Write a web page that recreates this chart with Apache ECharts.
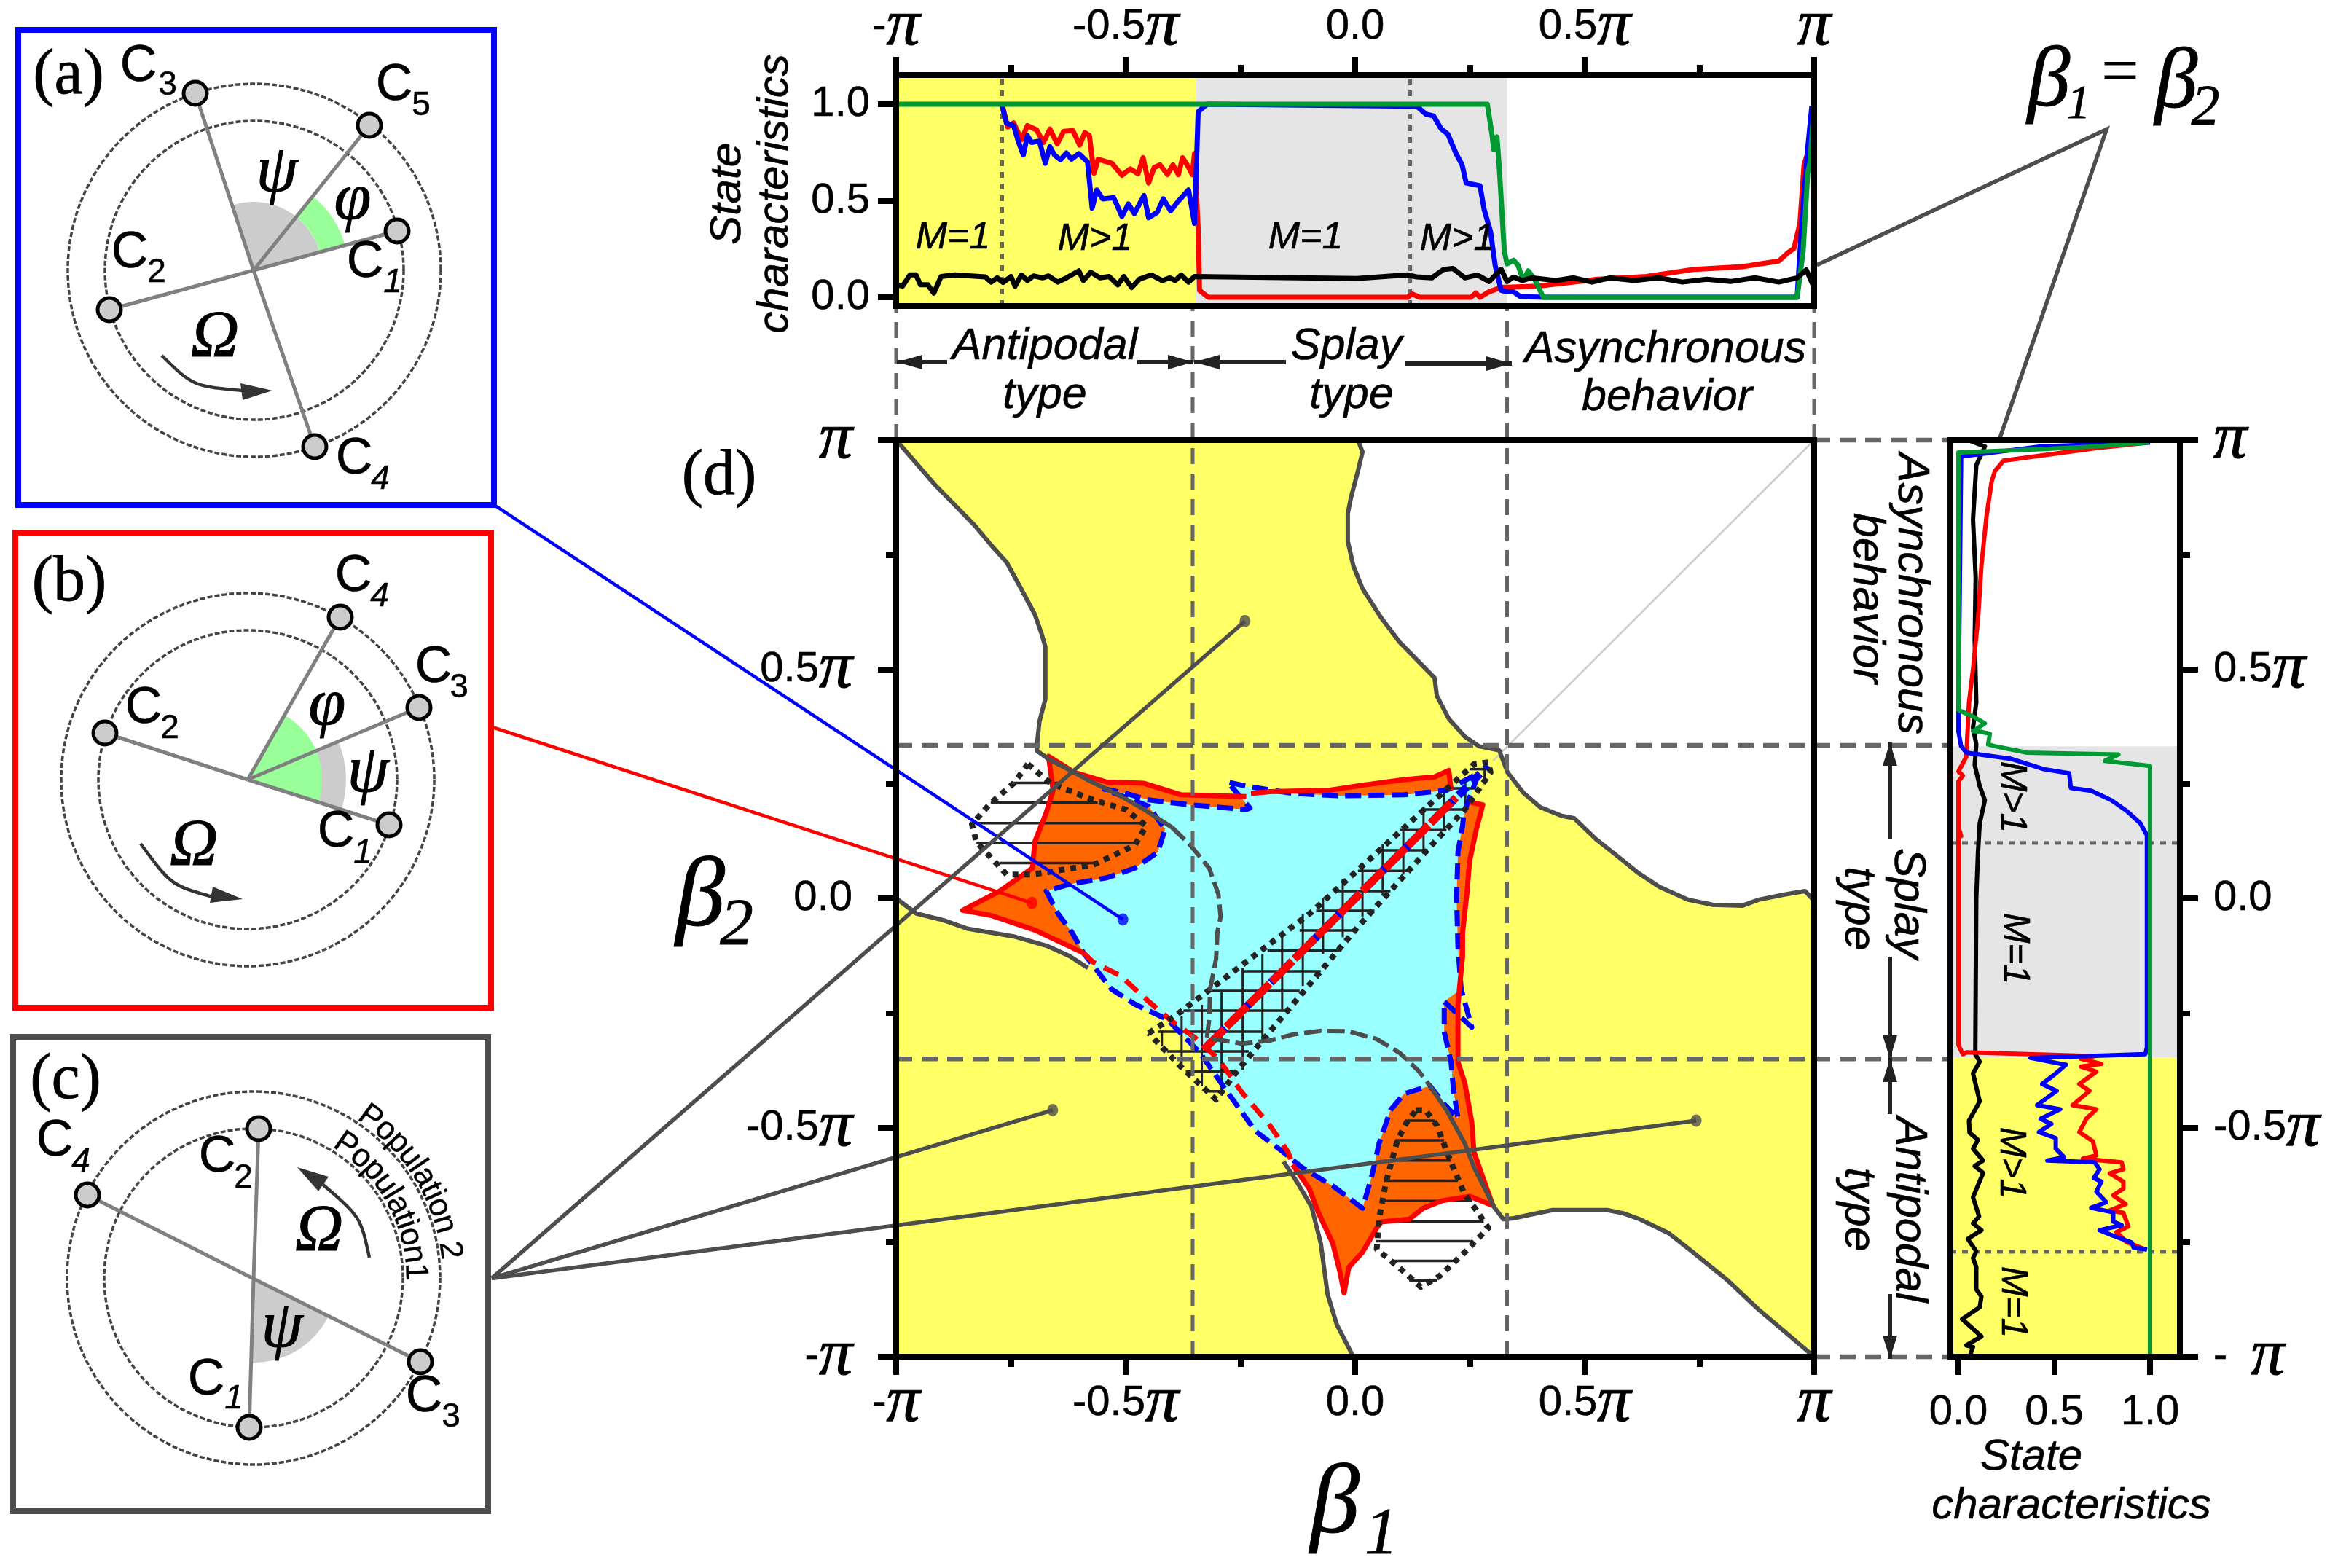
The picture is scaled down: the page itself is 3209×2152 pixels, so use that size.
<!DOCTYPE html>
<html><head><meta charset="utf-8">
<style>html,body{margin:0;padding:0;background:#fff}#c{width:3209px;height:2152px}</style>
<script src="https://cdn.jsdelivr.net/npm/echarts@6/dist/echarts.min.js"></script>
</head><body><div id="c"></div>
<script>
// ---------- tick labels ----------
const piTicks=[-1,-0.5,0,0.5,1];
const piLabels=['-{p|π}','-0.5{p|π}','0.0','0.5{p|π}','{p|π}'];
const piLabelsRight=['-  {p|π}','-0.5{p|π}','0.0','0.5{p|π}','{p|π}'];
const stateTicks=[0,0.5,1];
const stateLabels=['0.0','0.5','1.0'];
// ---------- top panel curves [beta1/pi, value] ----------
const topGreen=[[-1,1],[.288,1],[.298,.845],[.302,.766],[.309,.831],[.314,.672],[.325,.238],[.331,.173],[.345,.192],[.355,.166],[.366,.087],[.377,.137],[.391,.094],[.41,0],[.963,0],[.976,.238],[.986,.643],[.991,.7],[1,1]];
const topBlue=[[-.769,.99],[-.76,.903],[-.744,.889],[-.734,.809],[-.723,.737],[-.714,.838],[-.705,.802],[-.688,.809],[-.675,.694],[-.665,.78],[-.655,.737],[-.642,.712],[-.629,.747],[-.618,.715],[-.602,.744],[-.583,.701],[-.573,.462],[-.563,.556],[-.55,.51],[-.526,.516],[-.508,.419],[-.494,.484],[-.481,.434],[-.46,.527],[-.45,.412],[-.431,.441],[-.418,.51],[-.402,.448],[-.385,.499],[-.363,.556],[-.35,.383],[-.342,.961],[-.323,1],[.134,.99],[.154,.949],[.171,.939],[.187,.874],[.202,.845],[.22,.744],[.233,.686],[.242,.592],[.272,.578],[.281,.455],[.295,.34],[.305,.166],[.318,.036],[.331,.029],[.345,.029],[.36,.004],[.41,0],[.963,0],[.973,.383],[.986,.77],[.995,.99]];
const topRed=[[-.769,1],[-.757,.882],[-.744,.903],[-.727,.816],[-.714,.889],[-.694,.867],[-.679,.802],[-.665,.871],[-.649,.795],[-.635,.86],[-.615,.863],[-.6,.788],[-.589,.853],[-.579,.838],[-.569,.643],[-.56,.715],[-.53,.694],[-.508,.632],[-.49,.665],[-.473,.64],[-.462,.723],[-.45,.592],[-.438,.672],[-.425,.686],[-.409,.636],[-.397,.686],[-.385,.636],[-.376,.723],[-.366,.686],[-.355,.636],[-.35,.744],[-.342,.354],[-.339,.036],[-.32,0],[.114,0],[.124,.017],[.141,0],[.252,0],[.263,.022],[.272,0],[.292,.029],[.318,.051],[.397,.058],[.529,.094],[.634,.108],[.739,.145],[.844,.159],[.923,.188],[.943,.231],[.956,.253],[.969,.383],[.978,.686],[.989,.773],[.997,.961]];
const topBlack=[[-1,.065],[-.986,.058],[-.97,.116],[-.957,.116],[-.947,.065],[-.931,.065],[-.918,.022],[-.902,.108],[-.872,.116],[-.806,.106],[-.793,.079],[-.78,.101],[-.767,.077],[-.75,.108],[-.741,.058],[-.727,.116],[-.714,.087],[-.701,.111],[-.681,.101],[-.668,.111],[-.648,.079],[-.629,.101],[-.602,.137],[-.592,.087],[-.576,.13],[-.556,.101],[-.536,.108],[-.517,.065],[-.504,.108],[-.487,.051],[-.47,.094],[-.444,.116],[-.42,.087],[-.404,.101],[-.392,.087],[-.379,.116],[-.363,.079],[-.35,.108],[.003,.097],[.114,.116],[.134,.106],[.167,.101],[.193,.145],[.213,.149],[.239,.101],[.266,.116],[.292,.082],[.318,.145],[.331,.082],[.345,.105],[.364,.087],[.384,.101],[.437,.087],[.476,.101],[.516,.079],[.555,.101],[.608,.087],[.661,.101],[.713,.079],[.766,.094],[.818,.082],[.871,.101],[.923,.079],[.963,.101],[.983,.142],[1,.051]];
// ---------- right panel curves [value, beta2/pi] ----------
const rightGreen=[[1,-1],[1,.289],[.764,.3],[.835,.314],[.358,.318],[.19,.332],[.155,.336],[.164,.359],[.111,.364],[.076,.365],[.138,.382],[.085,.395],[0,.411],[0,.973],[.429,.98],[.711,.986],[.993,.995]];
const rightBlue=[[.984,-.766],[.914,-.762],[.905,-.751],[.808,-.736],[.737,-.724],[.852,-.713],[.808,-.705],[.808,-.685],[.693,-.675],[.772,-.663],[.72,-.64],[.746,-.618],[.707,-.61],[.737,-.591],[.711,-.576],[.464,-.572],[.552,-.565],[.508,-.546],[.508,-.523],[.42,-.51],[.485,-.492],[.429,-.481],[.531,-.46],[.411,-.451],[.513,-.42],[.437,-.405],[.508,-.382],[.561,-.363],[.376,-.348],[.975,-.34],[.984,-.325],[.984,.138],[.949,.164],[.878,.191],[.799,.214],[.693,.235],[.587,.241],[.578,.273],[.446,.282],[.27,.305],[.041,.318],[.014,.332],[0,.364],[0,.409],[.014,.964],[.429,.986],[1,.995]];
const rightRed=[[.984,-.767],[.878,-.75],[.825,-.728],[.887,-.716],[.861,-.686],[.79,-.681],[.873,-.667],[.808,-.648],[.861,-.633],[.861,-.618],[.79,-.6],[.861,-.591],[.852,-.576],[.649,-.568],[.72,-.561],[.702,-.53],[.631,-.51],[.667,-.481],[.72,-.46],[.596,-.451],[.684,-.42],[.631,-.405],[.72,-.378],[.64,-.367],[.746,-.361],[.64,-.35],[.711,-.344],[.041,-.336],[.023,-.34],[0,-.32],[0,.155],[.014,.136],[0,.155],[0,.255],[.023,.268],[0,.277],[.041,.309],[.055,.427],[.076,.5],[.102,.609],[.12,.727],[.146,.832],[.173,.909],[.19,.932],[.235,.955],[.711,.982],[1,.995]];
const rightBlack=[[.058,-1],[.076,-.979],[.041,-.975],[.12,-.956],[.041,-.926],[.019,-.918],[.111,-.892],[.12,-.869],[.093,-.853],[.093,-.804],[.076,-.785],[.093,-.77],[.049,-.743],[.12,-.724],[.076,-.709],[.108,-.694],[.076,-.652],[.129,-.599],[.085,-.584],[.129,-.572],[.076,-.546],[.102,-.527],[.058,-.511],[.055,-.485],[.111,-.443],[.076,-.382],[.111,-.356],[.088,-.34],[.093,0],[.102,.1],[.111,.164],[.138,.214],[.111,.245],[.085,.291],[.093,.336],[.076,.373],[.093,.427],[.085,.564],[.09,.7],[.076,.827],[.093,.945],[.138,.986],[.05,1]];
// ---------- map (d) region boundaries [beta1/pi, beta2/pi] ----------
const curveUL=[[-1,1],[-.916,.903],[-.83,.815],[-.794,.772],[-.759,.733],[-.728,.676],[-.698,.62],[-.683,.577],[-.675,.549],[-.675,.435],[-.688,.385],[-.693,.336],[-.693,.322],[-.668,.304],[-.612,.275],[-.582,.258],[-.521,.229],[-.46,.194],[-.399,.155]];
const curveInner=[[-.399,.155],[-.359,.116],[-.318,.066],[-.298,.009],[-.293,-.04],[-.3,-.073],[-.303,-.132],[-.316,-.198],[-.318,-.264],[-.323,-.304],[-.247,-.317],[-.186,-.31],[-.136,-.297],[-.075,-.289],[-.014,-.29],[.047,-.307],[.097,-.337],[.138,-.376],[.163,-.409]];
const curveLR=[[.163,-.409],[.199,-.462],[.239,-.535],[.259,-.587],[.303,-.674],[.323,-.7],[.345,-.698],[.382,-.69],[.43,-.68],[.549,-.68],[.584,-.687],[.62,-.7],[.684,-.731],[.732,-.769],[.811,-.833],[.879,-.897],[1,-1]];
const curveUR=[[.006,1],[.016,.974],[.006,.932],[-.009,.875],[-.016,.84],[-.016,.779],[-.004,.726],[.016,.676],[.057,.612],[.097,.559],[.173,.481],[.178,.442],[.204,.392],[.239,.353],[.27,.332],[.314,.323],[.332,.275],[.366,.231],[.403,.199],[.45,.18],[.477,.175],[.525,.129],[.568,.095],[.615,.057],[.663,.025],[.726,-.003],[.779,-.014],[.843,-.016],[.879,-.003],[.933,.008],[.98,.016],[1,-.005]];
const curveLeft=[[-1,0],[-.956,-.033],[-.896,-.048],[-.845,-.066],[-.744,-.083],[-.673,-.103],[-.622,-.126],[-.582,-.152],[-.5,-.212],[-.409,-.264],[-.338,-.337],[-.278,-.423],[-.217,-.508],[-.156,-.574]];
const curveBottom=[[-.156,-.574],[-.126,-.62],[-.095,-.673],[-.075,-.752],[-.06,-.864],[-.04,-.93],[-.004,-1]];
const redLobe=[[-.237,.222],[-.379,.226],[-.46,.251],[-.541,.254],[-.612,.275],[-.668,.31],[-.658,.236],[-.673,.187],[-.698,.123],[-.703,.066],[-.774,.016],[-.855,-.026],[-.794,-.037],[-.698,-.069],[-.592,-.119]];
const redTop=[[-.227,.229],[-.186,.233],[-.055,.236],[.016,.247],[.107,.259],[.173,.265],[.204,.279],[.209,.236]];
const redPeak=[[-.136,-.581],[-.1,-.633],[-.08,-.686],[-.049,-.752],[-.034,-.811],[-.024,-.861],[-.014,-.805],[.016,-.772],[.047,-.719],[.057,-.706],[.118,-.7],[.148,-.676],[.188,-.66],[.249,-.65],[.3,-.67],[.28,-.614],[.259,-.554],[.254,-.488],[.239,-.403],[.224,-.357],[.224,-.231],[.234,-.126],[.234,-.075],[.244,.016],[.249,.08],[.264,.151],[.278,.204],[.25,.21]];
const redDash=[[-.592,-.119],[-.571,-.139],[-.511,-.169],[-.45,-.225],[-.399,-.268],[-.349,-.304],[-.298,-.35],[-.247,-.423],[-.186,-.495],[-.146,-.554],[-.136,-.581]];
const cyanEdge=[[-.551,.24],[-.5,.229],[-.45,.215],[-.359,.204],[-.237,.194],[-.229,.197],[-.278,.254],[-.247,.247],[-.207,.24],[-.136,.229],[-.034,.224],[.107,.226],[.199,.236],[.259,.268],[.27,.275],[.237,.187],[.234,.158],[.224,.101],[.221,.002],[.224,-.106],[.231,-.198],[.254,-.281],[.194,-.225],[.194,-.291],[.209,-.357],[.214,-.416],[.224,-.48],[.194,-.449],[.163,-.409],[.107,-.426],[.077,-.462],[.052,-.535],[.036,-.607],[.016,-.676],[-.045,-.63],[-.116,-.587],[-.156,-.554],[-.217,-.508],[-.278,-.423],[-.338,-.337],[-.409,-.264],[-.48,-.231],[-.531,-.198],[-.592,-.119],[-.617,-.074],[-.647,-.034],[-.673,.016],[-.622,.031],[-.541,.045],[-.48,.066],[-.43,.101],[-.414,.151],[-.45,.201],[-.551,.24]];
const cyanFill=cyanEdge.filter(p=>p[0]!==.254);
const orangeLobeInner=[[-.45,0],[-.35,.15],[-.229,.197]];
const orangeTopInner=[[.2,.2],[-.176,.2]];
const orangePeakInner=[[.2,.1],[.18,-.3],[.1,-.4],[-.05,-.55]];
const diagonal=[[-.33,-.33],[.29,.29]];
const diagThin=[[.3,.3],[1,1]];
// ---------- hatched domains ----------
const hatchLobe=[[-.713,.293],[-.663,.251],[-.571,.215],[-.5,.194],[-.455,.158],[-.48,.116],[-.571,.073],[-.703,.052],[-.759,.052],[-.825,.123],[-.835,.162],[-.794,.208],[-.744,.251],[-.713,.293]];
const hatchLobeRows=[[.252,-.744,-.642],[.209,-.794,-.561],[.164,-.835,-.46],[.121,-.825,-.475],[.077,-.774,-.571]];
const hatchPeak=[[.133,-.462],[.153,-.462],[.178,-.495],[.208,-.574],[.239,-.647],[.264,-.68],[.29,-.719],[.239,-.772],[.183,-.825],[.143,-.848],[.102,-.811],[.047,-.765],[.052,-.7],[.067,-.62],[.092,-.528],[.112,-.489],[.133,-.462]];
const hatchPeakRows=[[-.485,.112,.173],[-.528,.087,.194],[-.572,.067,.209],[-.616,.062,.224],[-.66,.057,.254],[-.705,.052,.28],[-.748,.045,.254],[-.791,.082,.219],[-.834,.118,.178]];
const hatchBand=[[-.45,-.294],[-.389,-.254],[-.095,-.03],[.259,.293],[.29,.297],[.295,.275],[.239,.194],[.173,.123],[.006,-.062],[-.257,-.376],[-.303,-.439],[-.384,-.363],[-.45,-.294]];
const hatchBandRows=[[-.421,-.323,-.288],[-.378,-.369,-.257],[-.334,-.41,-.232],[-.291,-.43,-.202],[-.245,-.374,-.151],[-.202,-.313,-.121],[-.159,-.247,-.075],[-.114,-.191,-.034],[-.07,-.121,.001],[-.027,-.085,.042],[.016,-.04,.077],[.06,.006,.118],[.105,.052,.158],[.149,.097,.199],[.194,.148,.239],[.24,.194,.264],[.282,.249,.29]];
// ---------- state borders ----------
const b1Antipodal=-.354, b1Asyn=.331, b2Asyn=.334, b2Antipodal=-.35;
const b1DotA=-.769, b1DotS=.12, b2DotS=.121, b2DotA=-.771;
const bandTopYellowEnd=-.346, bandTopGreyEnd=.331, bandRightGreyTop=.332, bandRightYellowTop=-.3465;
// ---------- marker points and their link lines ----------
const ptBlue=[-.506,-.046], ptRed=[-.704,-.01];
const ptGrey=[[-.24,.605],[-.659,-.462],[.743,-.485]];
const linkBlueFrom=[-1.881,.862], linkRedFrom=[-1.881,.374], linkGreyFrom=[-1.881,-.829];
const linkBeta=[[1.006,1.382],[1.637,1.678],[1.403,1.0]];
const gapTop=1.29, gapRight=1.2986;

const Y='#ffff66',CY='#99ffff',OR='#ff6600',RED='#ff0000',BLUE='#0000ff',GRN='#009933',GREY='#e5e5e5',DK='#4d4d4d',DASH='#666666';
const SANS='"Liberation Sans",Arial,sans-serif',SERIF='"Liberation Serif",serif';
const G=[[1230,604,1260,1258],[1230,103,1260,317],[2677,604,315,1258]];
const IDX=[[0,0],[2,2],[4,5]];

const lab=v=>piLabels[piTicks.indexOf(v)]||'';
const labR=v=>piLabelsRight[piTicks.indexOf(v)]||'';
const slab=v=>stateLabels[stateTicks.indexOf(v)]||'';
const rich={p:{fontFamily:SERIF,fontStyle:'italic',fontSize:92,lineHeight:60,height:60,color:'#000',textBorderColor:'#000',textBorderWidth:1.2}};
const base=(grid,pos,extra)=>Object.assign({type:'value',gridIndex:grid,position:pos,z:20,
  axisLine:{show:true,onZero:false,lineStyle:{color:'#000',width:8,cap:'square'}},
  axisTick:{show:false},axisLabel:{show:false},splitLine:{show:false},minorTick:{show:false},minorSplitLine:{show:false}},extra);
const tick={show:true,inside:false,length:25,lineStyle:{color:'#000',width:8}};
const minor={show:true,splitNumber:2,length:14,lineStyle:{color:'#000',width:8}};
const piLab=(m,f)=>({show:true,margin:m,fontFamily:SANS,fontSize:58,lineHeight:60,color:'#000',textBorderColor:'#000',textBorderWidth:.6,formatter:f||lab,rich,hideOverlap:false,showMinLabel:true,showMaxLabel:true});
const stLab=(m)=>({show:true,margin:m,fontFamily:SANS,fontSize:58,color:'#000',textBorderColor:'#000',textBorderWidth:.6,formatter:slab,customValues:stateTicks,hideOverlap:false});
const pi={min:-1,max:1,interval:.5};
const xAxis=[
 base(0,'bottom',{...pi,axisTick:tick,minorTick:minor,axisLabel:piLab(34)}),
 base(0,'top',{...pi}),
 base(1,'top',{...pi,axisTick:tick,minorTick:minor,axisLabel:piLab(36)}),
 base(1,'bottom',{...pi}),
 base(2,'bottom',{min:-.042,max:1.156,axisTick:{...tick,customValues:stateTicks},axisLabel:stLab(48)}),
 base(2,'top',{min:-.042,max:1.156}),
];
const yAxis=[
 base(0,'left',{...pi,axisTick:tick,minorTick:minor,axisLabel:piLab(60)}),
 base(0,'right',{...pi}),
 base(1,'left',{min:-.045,max:1.151,axisTick:{...tick,customValues:stateTicks},axisLabel:stLab(36)}),
 base(1,'right',{min:-.045,max:1.151}),
 base(2,'left',{...pi}),
 base(2,'right',{...pi,axisTick:tick,minorTick:minor,axisLabel:piLab(46,labR)}),
];
const series=[];
function poly(pts,fill,g){const[xi,yi]=IDX[g];series.push({type:'custom',xAxisIndex:xi,yAxisIndex:yi,silent:true,animation:false,z:2,
  encode:{x:0,y:1},data:[pts[0]],renderItem:(p,api)=>({type:'polygon',shape:{points:pts.map(q=>api.coord(q))},style:{fill}})});}
function line(pts,color,width,g,opt={}){const[xi,yi]=IDX[g];series.push({type:'line',xAxisIndex:xi,yAxisIndex:yi,data:pts,symbol:'none',silent:true,animation:false,clip:false,z:opt.z||3,
  lineStyle:{color,width,type:opt.dash||'solid',cap:opt.cap||'butt',join:'round'}});}
function ext(pts,color,width,opt={}){series.push({type:'custom',xAxisIndex:0,yAxisIndex:0,silent:true,animation:false,z:opt.z||4,
  encode:{x:0,y:1},data:[[0,0]],renderItem:(p,api)=>({type:'polyline',shape:{points:pts.map(q=>api.coord(q))},style:{stroke:color,lineWidth:width,fill:null,lineDash:opt.dash||null}})});}
function rows(list,swap,width){series.push({type:'custom',xAxisIndex:0,yAxisIndex:0,silent:true,animation:false,z:3,
  encode:{x:[1,2],y:0},data:list,renderItem:(p,api)=>{const v=api.value(0),a=api.value(1),b=api.value(2);
    const A=swap?api.coord([v,a]):api.coord([a,v]),B=swap?api.coord([v,b]):api.coord([b,v]);
    return {type:'line',shape:{x1:A[0],y1:A[1],x2:B[0],y2:B[1]},style:{stroke:'#222',lineWidth:width}};}});}
function dots(pts,color){series.push({type:'scatter',xAxisIndex:0,yAxisIndex:0,data:pts,symbol:'circle',symbolSize:[15,17],silent:true,animation:false,z:6,itemStyle:{color}});}

// top panel
poly([[-1,-.045],[bandTopYellowEnd,-.045],[bandTopYellowEnd,1.151],[-1,1.151]],Y,1);
poly([[bandTopYellowEnd,-.045],[bandTopGreyEnd,-.045],[bandTopGreyEnd,1.151],[bandTopYellowEnd,1.151]],GREY,1);
line([[b1DotA,-.045],[b1DotA,1.151]],DASH,5,1,{dash:[8,8]});
line([[b1DotS,-.045],[b1DotS,1.151]],DASH,5,1,{dash:[8,8]});
line(topRed,RED,7,1);line(topBlue,BLUE,7,1);line(topGreen,GRN,7,1);line(topBlack,'#000',7,1);
// right panel
poly([[-.042,-1],[1.156,-1],[1.156,bandRightYellowTop],[-.042,bandRightYellowTop]],Y,2);
poly([[-.042,bandRightYellowTop],[1.156,bandRightYellowTop],[1.156,bandRightGreyTop],[-.042,bandRightGreyTop]],GREY,2);
line([[-.042,b2DotS],[1.156,b2DotS]],DASH,5,2,{dash:[8,8]});
line([[-.042,b2DotA],[1.156,b2DotA]],DASH,5,2,{dash:[8,8]});
line(rightBlack,'#000',6,2);line(rightRed,RED,6,2);line(rightBlue,BLUE,6,2);line(rightGreen,GRN,6,2);
// map (d)
poly([[-1,-1],[1,-1],[1,1],[-1,1]],Y,0);
poly([...curveUL,[-.45,.05],...[...curveLeft].reverse().filter(p=>p[0]<-.5)],'#fff',0);
poly([...curveUR,[1,1]],'#fff',0);
poly([...curveBottom.slice().reverse(),[.1,-.5],...curveLR.slice(3)],'#fff',0);
poly([...redLobe,...orangeLobeInner],OR,0);
poly([...redTop,...orangeTopInner],OR,0);
poly([...redPeak,...orangePeakInner],OR,0);
poly(cyanFill,CY,0);
line(diagThin,'#cccccc',2.5,0);
line(cyanEdge,BLUE,7,0,{dash:[22,10]});
line(redDash,RED,7,0,{dash:[22,13]});
line(redLobe,RED,7,0);line(redTop,RED,7,0);line(redPeak,RED,7,0);
line(diagonal,BLUE,11,0,{dash:[16,10]});
line([diagonal[0],[.22,.22]],RED,11,0,{dash:[40,4]});
rows(hatchLobeRows,false,3.5);rows(hatchPeakRows,false,3.5);rows(hatchBandRows,false,3.5);rows(hatchBandRows,true,3);
line(hatchLobe,'#222',8,0,{dash:[8,8]});line(hatchPeak,'#222',8,0,{dash:[8,8]});line(hatchBand,'#222',8,0,{dash:[8,8]});
line(curveUL,DK,6,0);line(curveUR,DK,6,0);line(curveLR,DK,6,0);line(curveBottom,DK,6,0);
line(curveLeft.filter(p=>p[0]<-.58),DK,6,0);
line(curveInner,DK,6,0,{dash:[24,8]});
// state borders reaching out to the side panels
[b1Antipodal,b1Asyn].forEach(x=>ext([[x,-1],[x,gapTop]],DASH,5,{dash:[22,13]}));
[-1,1].forEach(x=>ext([[x,1],[x,gapTop]],DASH,5,{dash:[22,13]}));
[b2Asyn,b2Antipodal].forEach(y=>ext([[-1,y],[gapRight,y]],DASH,6.5,{dash:[22,13]}));
[-1,1].forEach(y=>ext([[1,y],[gapRight,y]],DASH,6.5,{dash:[22,13]}));
// links
ext([linkBlueFrom,ptBlue],BLUE,4.5,{z:5});
ext([linkRedFrom,ptRed],RED,4.5,{z:5});
ptGrey.forEach(p=>ext([linkGreyFrom,p],DK,5.5,{z:5}));
ext(linkBeta,DK,5.5,{z:5});
dots([ptBlue],BLUE);dots([ptRed],RED);dots(ptGrey,DK);

// ---------- schematic panels (a)(b)(c) ----------
const panelA={name:'(a)',frame:[25,41,653,652],color:BLUE,c:[349,371],
 spokes:[[268,128],[432,613],[150,425],[545,317],[507,172]],origin:[348,371],dots:[[545,317],[150,425],[268,128],[432,613],[507,172]],
 labels:[['1',501,361,539,388],['2',178,348,215,374],['3',190,92,230,117],['4',486,631,522,658],['5',541,118,578,145]],
 nameAt:[94,105],psi:[380,238],phi:[484,276],om:[295,465],
 arrow:[222,488,265,530,333,536],head:[[330,526],[374,536],[333,549]]};
const panelB={name:'(b)',frame:[21,731,653,652],color:RED,c:[340,1070],
 spokes:[[144,1006],[534,1132],[575,971],[467,847]],origin:[340,1070],dots:[[534,1132],[144,1006],[575,971],[467,847]],
 labels:[['1',461,1143,498,1171],['2',197,973,233,1000],['3',595,917,630,944],['4',485,792,521,819]],
 nameAt:[95,801],psi:[505,1062],phi:[449,970],om:[266,1163],
 arrow:[193,1158,235,1215,292,1231],head:[[292,1217],[333,1234],[288,1239]]};
const panelC={name:'(c)',frame:[18,1423,652,651],color:DK,c:[348,1754],
 spokes:[[342,1959],[355,1549],[120,1640],[577,1869]],origin:[348,1755],dots:[[342,1959],[355,1549],[577,1869],[120,1640]],
 labels:[['1',283,1895,321,1920],['2',298,1589,334,1617],['3',582,1918,619,1945],['4',75,1567,111,1595]],
 nameAt:[90,1484],psi:[387,1824],om:[438,1692],
 arrow:[507,1726,495,1670,440,1623],head:[[408,1602],[451,1615],[437,1635]]};
const sectorsA=[[94,130,15.4,51.6,'#99ff99'],[0,94,15.4,108.4,'#cccccc']];
const sectorsB=[[0,135,-17.7,22.8,'#cccccc'],[0,102,-17.7,60.3,'#99ff99']];
const sectorsC=[[0,115,-91.7,-26.5,'#cccccc']];
const pop2='Population 2',pop1='Population1';

const el=[];const Z=100;
function T(x,y,text,o={}){el.push({type:'text',z:Z+5,x,y,rotation:o.rot||0,style:{text,fill:o.color||'#000',stroke:o.sw?'#000':null,lineWidth:o.sw||0,
  font:`${o.style||'normal'} ${o.weight||'normal'} ${o.size||60}px ${o.family||SANS}`,align:o.align||'center',verticalAlign:o.va||'middle'}});}
function L(pts,color,w){el.push({type:'polyline',z:Z,shape:{points:pts},style:{stroke:color,lineWidth:w,fill:null}});}
function P(pts,color){el.push({type:'polygon',z:Z,shape:{points:pts},style:{fill:color}});}
function drawPanel(p,sec){
 const [fx,fy,fw,fh]=p.frame;
 el.push({type:'rect',z:Z-2,shape:{x:fx,y:fy,width:fw,height:fh},style:{fill:'#fff',stroke:p.color,lineWidth:8}});
 sec.forEach(s=>el.push({type:'sector',z:Z-1,shape:{cx:p.origin[0],cy:p.origin[1],r0:s[0],r:s[1],startAngle:-s[3]*Math.PI/180,endAngle:-s[2]*Math.PI/180,clockwise:true},style:{fill:s[4]}}));
 [256,205].forEach(r=>el.push({type:'circle',z:Z-1,shape:{cx:p.c[0],cy:p.c[1],r},style:{fill:'none',stroke:'#444',lineWidth:3.5,lineDash:[7,3]}}));
 p.spokes.forEach(s=>L([p.origin,s],'#808080',5));
 p.dots.forEach(d=>el.push({type:'circle',z:Z+1,shape:{cx:d[0],cy:d[1],r:16},style:{fill:'#cccccc',stroke:'#000',lineWidth:5}}));
 p.labels.forEach(l=>{T(l[1],l[2],'C',{size:70,sw:.6});T(l[3],l[4],l[0],{size:46,sw:.5,style:(l[0]==='1'||l[0]==='4')?'italic':'normal'});});
 T(p.nameAt[0],p.nameAt[1],p.name,{size:88,family:SERIF,sw:.8});
 T(p.psi[0],p.psi[1],'ψ',{size:92,family:SERIF,style:'italic',sw:1});
 if(p.phi)T(p.phi[0],p.phi[1],'φ',{size:92,family:SERIF,style:'italic',sw:1});
 T(p.om[0],p.om[1],'Ω',{size:92,family:SERIF,style:'italic',sw:1});
 const a=p.arrow;
 el.push({type:'bezierCurve',z:Z,shape:{x1:a[0],y1:a[1],cpx1:a[2],cpy1:a[3],cpx2:a[2],cpy2:a[3],x2:a[4],y2:a[5]},style:{stroke:'#333',lineWidth:4.5,fill:null}});
 P(p.head,'#333');
}
drawPanel(panelA,sectorsA);drawPanel(panelB,sectorsB);drawPanel(panelC,sectorsC);
// curved text in (c)
const mc=document.createElement('canvas').getContext('2d');
function arcText(str,r,startDeg,size){mc.font=`${size}px "Liberation Sans"`;let a=startDeg*Math.PI/180;
 for(const ch of str){const w=mc.measureText(ch).width;a-=w/2/r;
  T(panelC.c[0]+r*Math.cos(a),panelC.c[1]-r*Math.sin(a),ch,{size,rot:a-Math.PI/2,sw:.4});a-=w/2/r;}}
arcText(pop2,272,57,44);arcText(pop1,222,59,44);

// annotations
const it={style:'italic',sw:.6};
T(1308,327,'M=1',{...it,size:52});T(1503,329,'M>1',{...it,size:52});T(1792,327,'M=1',{...it,size:52});T(2000,329,'M>1',{...it,size:52});
T(1434,476,'Antipodal',{...it,size:61});T(1434,543,'type',{...it,size:61});
T(1848,476,'Splay',{...it,size:61});T(1855,543,'type',{...it,size:61});
T(2286,480,'Asynchronous',{...it,size:61});T(2288,546,'behavior',{...it,size:61});
T(1064,266,'characteristics',{...it,size:60,rot:Math.PI/2});T(999,266,'State',{...it,size:60,rot:Math.PI/2});
T(2788,2000,'State',{...it,size:60});T(2843,2067,'characteristics',{...it,size:60});
const ROT=-Math.PI/2;
T(2623,815,'Asynchronous',{...it,size:61,rot:ROT});T(2562,821,'behavior',{...it,size:61,rot:ROT});
T(2618,1240,'Splay',{...it,size:61,rot:ROT});T(2550,1247,'type',{...it,size:61,rot:ROT});
T(2620,1660,'Antipodal',{...it,size:61,rot:ROT});T(2550,1660,'type',{...it,size:61,rot:ROT});
T(2761,1094,'M>1',{...it,size:50,rot:ROT});T(2765,1302,'M=1',{...it,size:50,rot:ROT});T(2760,1596,'M>1',{...it,size:50,rot:ROT});T(2762,1787,'M=1',{...it,size:50,rot:ROT});
function hArrow(x1,x2,y){L([[x1,y],[x2,y]],'#222',6);const s=x2>x1?1:-1;P([[x2,y],[x2-s*35,y-10],[x2-s*35,y+10]],'#222');}
function vArrow(y1,y2,x){L([[x,y1],[x,y2]],'#222',6);const s=y2>y1?1:-1;P([[x,y2],[x-10,y2-s*32],[x+10,y2-s*32]],'#222');}
hArrow(1300,1231,497);hArrow(1561,1638,497);hArrow(1765,1639,497);hArrow(1928,2075,499);
vArrow(1152,1019,2594);vArrow(1313,1453,2594);vArrow(1529,1453,2594);vArrow(1776,1865,2594);
T(987,655,'(d)',{size:88,family:SERIF,sw:.8});
function beta(x,y,sub,size,subX,subY,subSize){T(x,y,'β',{size,family:SERIF,style:'italic',sw:1});T(subX,subY,sub,{size:subSize,family:SERIF,style:'italic',sw:.8});}
beta(1832,2067,'1',136,1896,2108,92);beta(961,1234,'2',136,1011,1272,92);
beta(2812,114,'1',118,2853,145,66);T(2910,103,'=',{size:92,family:SERIF});beta(2987,116,'2',118,3027,149,78);

const chart=echarts.init(document.getElementById('c'),null,{renderer:'canvas'});
chart.setOption({animation:false,backgroundColor:'#fff',
 grid:G.map(g=>({left:g[0],top:g[1],width:g[2],height:g[3],containLabel:false,outerBoundsMode:'none'})),
 xAxis,yAxis,series,graphic:{elements:el}});
</script></body></html>
